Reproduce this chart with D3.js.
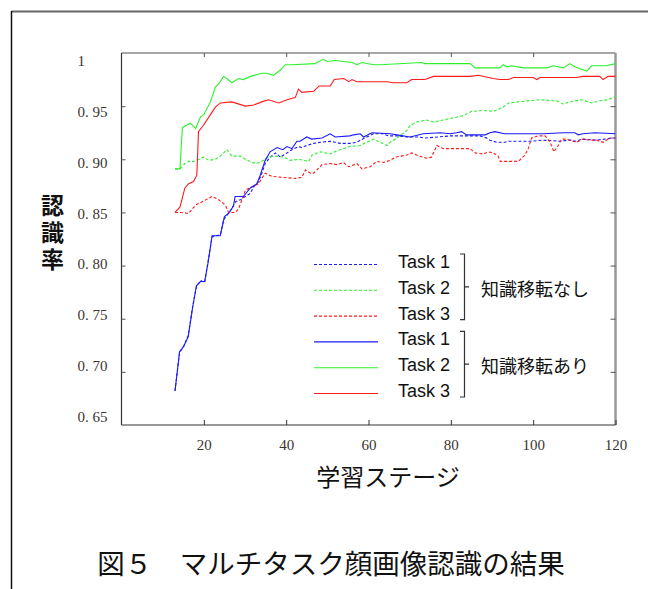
<!DOCTYPE html>
<html>
<head>
<meta charset="utf-8">
<script src="https://cdn.jsdelivr.net/npm/d3@7"></script>
<style>
  body { margin: 0; background: #fff; }
</style>
</head>
<body>
<div id="chart"></div>
<script>

// x: learning stage, y: recognition rate
const stageTicks = [20, 40, 60, 80, 100, 120]
const rateTicks = [0.65, 0.70, 0.75, 0.80, 0.85, 0.90, 0.95, 1.0]
const rateTickLabels = ['0. 65', '0. 70', '0. 75', '0. 80', '0. 85', '0. 90', '0. 95', '1']

// 知識移転なし (dashed)
const task1Plain = [[13, 0.682], [14.1, 0.718], [15.1, 0.724], [16.2, 0.734], [17.3, 0.762], [18.2, 0.780], [19.2, 0.786], [20.2, 0.784],
    [21, 0.803], [22, 0.827], [24, 0.829], [24.8, 0.843], [26.5, 0.852], [27.7, 0.860], [28.9, 0.862], [30.1, 0.865], [31.3, 0.868],
    [32.1, 0.874], [33.3, 0.879], [34.1, 0.887], [34.9, 0.896], [36.1, 0.902], [37.4, 0.906], [38.6, 0.902], [39.8, 0.905],
    [41.4, 0.909], [43, 0.912], [43.8, 0.911], [45, 0.913], [46.7, 0.915], [48.3, 0.916], [50.7, 0.917], [53.1, 0.915], [55.5, 0.915],
    [57.2, 0.916], [58, 0.918], [59.6, 0.921], [61.2, 0.924], [63.6, 0.924], [64.8, 0.922], [66.9, 0.922], [69.3, 0.921], [72.1, 0.921],
    [73.7, 0.920], [79.8, 0.922], [87.1, 0.922], [88.7, 0.920], [89.5, 0.918], [91.1, 0.916], [93.1, 0.916], [93.9, 0.917], [99.2, 0.917],
    [102.4, 0.918], [106.5, 0.917], [108.9, 0.918], [110.5, 0.917], [111.8, 0.919], [115.4, 0.918], [119.5, 0.920], [120, 0.920]]

const task2Plain = [[13, 0.891], [14.2, 0.891], [15.4, 0.896], [16.3, 0.898], [17.5, 0.898], [18.3, 0.899], [19.9, 0.902], [21.2, 0.899],
    [22.8, 0.900], [24, 0.903], [25.6, 0.909], [26.8, 0.903], [28.9, 0.903], [30.1, 0.900], [31.7, 0.897], [32.9, 0.896], [34.5, 0.899],
    [35.7, 0.902], [37.4, 0.903], [39.4, 0.902], [41, 0.899], [43, 0.900], [45.5, 0.898], [46.3, 0.904], [48.3, 0.907], [50.7, 0.905],
    [52.3, 0.908], [53.9, 0.910], [55.5, 0.912], [58, 0.913], [61.2, 0.919], [62.8, 0.916], [64.5, 0.913], [65.3, 0.916], [66.9, 0.920],
    [69.3, 0.927], [70.1, 0.932], [71.7, 0.935], [74.1, 0.937], [75.8, 0.935], [78.2, 0.937], [80.6, 0.939], [83, 0.941], [85, 0.945],
    [87.9, 0.946], [90.3, 0.945], [92.7, 0.949], [94, 0.953], [96.2, 0.954], [98.7, 0.955], [101.3, 0.956], [105.7, 0.955], [107.3, 0.952],
    [108.9, 0.954], [111.7, 0.956], [114.2, 0.953], [116.2, 0.955], [118.2, 0.956], [120, 0.959]]

const task3Plain = [[13, 0.850], [14.5, 0.850], [16.3, 0.849], [18, 0.857], [19.6, 0.860], [22, 0.865], [23.6, 0.862], [25.2, 0.857],
    [26, 0.850], [27.7, 0.850], [28.5, 0.854], [30.1, 0.871], [31.7, 0.874], [33.3, 0.877], [34.9, 0.887], [36.5, 0.884], [38.9, 0.883],
    [42.2, 0.882], [43.8, 0.883], [44.7, 0.890], [45.9, 0.887], [46.7, 0.887], [48.7, 0.895], [50.7, 0.896], [52.3, 0.895], [53.9, 0.897],
    [55.2, 0.893], [57.2, 0.896], [58.4, 0.891], [60.4, 0.893], [62, 0.898], [63.6, 0.897], [65.3, 0.899], [66.5, 0.902], [69.3, 0.904],
    [70.5, 0.906], [72.3, 0.903], [74.1, 0.901], [75.3, 0.902], [76.6, 0.913], [78.2, 0.910], [81.4, 0.910], [84.7, 0.910], [85.9, 0.906],
    [87.9, 0.905], [89.1, 0.907], [90.3, 0.906], [91.5, 0.903], [92, 0.898], [96.4, 0.898], [98, 0.904], [98.8, 0.910], [99.6, 0.920],
    [101.2, 0.922], [102.9, 0.922], [103.6, 0.919], [104.6, 0.912], [105, 0.907], [106.1, 0.913], [106.9, 0.919], [108.1, 0.919],
    [109.7, 0.917], [110.5, 0.916], [112.1, 0.919], [113.8, 0.918], [115.4, 0.918], [117, 0.916], [118.6, 0.920], [120, 0.920]]

// 知識移転あり (solid)
const task1Transfer = [[13, 0.682], [14.1, 0.719], [15.1, 0.724], [16.2, 0.733], [17.3, 0.761], [18.2, 0.781], [19.2, 0.785], [20.2, 0.785],
    [21, 0.802], [22, 0.828], [24, 0.828], [25, 0.846], [26, 0.849], [27.2, 0.856], [27.6, 0.865], [29.6, 0.865], [31.3, 0.873],
    [32.9, 0.877], [33.7, 0.885], [34.9, 0.899], [36.1, 0.907], [37.8, 0.911], [39.2, 0.909], [40.2, 0.912], [41.4, 0.910], [42.6, 0.917],
    [43.4, 0.917], [45, 0.921], [46.2, 0.919], [48.7, 0.920], [50.7, 0.924], [51.9, 0.921], [55.5, 0.922], [56.4, 0.923], [58, 0.924],
    [58.8, 0.921], [60.8, 0.925], [65.3, 0.924], [66.9, 0.923], [70.1, 0.921], [73.3, 0.924], [77.4, 0.925], [79.8, 0.924], [81.4, 0.925],
    [82.6, 0.926], [83.8, 0.923], [87.1, 0.923], [88.4, 0.923], [89.5, 0.925], [90.7, 0.926], [93, 0.924], [102.6, 0.924], [107.3, 0.925],
    [110.1, 0.925], [111, 0.923], [112.1, 0.924], [115, 0.925], [120, 0.924]]

const task2Transfer = [[13, 0.891], [14.2, 0.891], [14.8, 0.930], [16.7, 0.934], [18, 0.929], [19.2, 0.940], [20, 0.942], [21.6, 0.954],
    [22.8, 0.968], [23.6, 0.971], [24.8, 0.978], [25.6, 0.976], [26.8, 0.972], [28.4, 0.976], [29.6, 0.975], [31.3, 0.978], [34.1, 0.981],
    [35.3, 0.981], [36.9, 0.979], [38.6, 0.984], [39.8, 0.989], [41.4, 0.989], [47, 0.990], [49, 0.994], [50, 0.992], [52, 0.993],
    [56, 0.991], [57.2, 0.989], [58.4, 0.991], [61.2, 0.989], [62.8, 0.989], [72.9, 0.991], [73.7, 0.990], [76.6, 0.990], [84.7, 0.990],
    [85.9, 0.986], [91.9, 0.986], [92.7, 0.989], [93.6, 0.987], [94.8, 0.988], [97.6, 0.986], [103.3, 0.986], [104.9, 0.988],
    [107.3, 0.986], [108.9, 0.990], [110.1, 0.987], [113, 0.983], [114.2, 0.988], [117.8, 0.988], [120, 0.990]]

const task3Transfer = [[13, 0.850], [14.2, 0.855], [15.4, 0.873], [16.3, 0.877], [17.5, 0.879], [18.3, 0.885], [18.7, 0.926], [19.9, 0.932],
    [21.6, 0.942], [22.8, 0.949], [24, 0.953], [26.8, 0.954], [30.1, 0.950], [32.1, 0.951], [34.1, 0.954], [35.7, 0.956], [38.2, 0.953],
    [40.2, 0.956], [42.2, 0.958], [43, 0.966], [43.8, 0.963], [46.7, 0.964], [48, 0.969], [50.7, 0.969], [51.7, 0.975], [54, 0.976],
    [55.2, 0.973], [56, 0.975], [57.2, 0.973], [64.5, 0.973], [66.1, 0.972], [69.3, 0.972], [70.5, 0.975], [73.7, 0.975], [75.8, 0.978],
    [84.7, 0.978], [86.7, 0.979], [90.3, 0.976], [91.9, 0.975], [94, 0.975], [95.2, 0.977], [100, 0.977], [100.9, 0.975], [101.7, 0.977],
    [110.5, 0.977], [112.1, 0.978], [116.2, 0.978], [117, 0.975], [118.2, 0.978], [120, 0.978]]

const taskLabels = ['Task 1', 'Task 2', 'Task 3']
const groupLabels = ['知識移転なし', '知識移転あり']
const taskColors = ['#1a1aff', '#2cf02c', '#ff1a1a']

const series = [
    { task: 0, group: 0, values: task1Plain },
    { task: 1, group: 0, values: task2Plain },
    { task: 2, group: 0, values: task3Plain },
    { task: 0, group: 1, values: task1Transfer },
    { task: 1, group: 1, values: task2Transfer },
    { task: 2, group: 1, values: task3Transfer }
]

let fullWidth = 648
let fullHeight = 589

var margin = { top: 53, right: 32.5, bottom: 164, left: 121.5 },
    width = fullWidth - margin.left - margin.right,
    height = fullHeight - margin.top - margin.bottom;

var root = d3.select('#chart')
    .append('svg')
    .attr('width', fullWidth)
    .attr('height', fullHeight)

// page border (top and left edges of the figure box)
root.append('line')
    .attr('x1', 11.5).attr('x2', fullWidth).attr('y1', 11.5).attr('y2', 11.5)
    .attr('stroke', '#666').attr('stroke-width', 2)
root.append('line')
    .attr('x1', 11.5).attr('x2', 11.5).attr('y1', 11).attr('y2', fullHeight)
    .attr('stroke', '#111').attr('stroke-width', 1.5)

var svg = root.append('g')
    .attr('transform', 'translate(' + margin.left + ',' + margin.top + ')')

var x = d3.scaleLinear().domain([0, 120]).range([0, width])
var y = d3.scaleLinear().domain([0.65, 1.0]).range([height, 0])
// the tick labels sit on a slightly tighter grid than the ticks
var yLabel = d3.scaleLinear().domain([0.65, 1.0]).range([height - 8, 8])

// frame
svg.append('line').attr('x1', 0).attr('x2', width).attr('y1', 0).attr('y2', 0)
    .attr('stroke', '#888').attr('stroke-width', 1.5)
svg.append('line').attr('x1', width).attr('x2', width).attr('y1', 0).attr('y2', height)
    .attr('stroke', '#999').attr('stroke-width', 2.5)
svg.append('line').attr('x1', 0).attr('x2', 0).attr('y1', 0).attr('y2', height)
    .attr('stroke', '#333').attr('stroke-width', 1.2)
svg.append('line').attr('x1', 0).attr('x2', width).attr('y1', height).attr('y2', height)
    .attr('stroke', '#333').attr('stroke-width', 1.2)

// ticks point inwards on all four sides
var xAxis = svg.append('g')
    .attr('transform', 'translate(0,' + height + ')')
    .call(d3.axisBottom(x).tickValues(stageTicks).tickSize(-5).tickPadding(14))
xAxis.select('.domain').remove()
xAxis.selectAll('line').attr('stroke', '#333')
xAxis.selectAll('text')
    .attr('font-family', '"Liberation Serif", "DejaVu Serif", serif')
    .attr('font-size', 15)
    .attr('fill', '#3a3530')

var topAxis = svg.append('g')
    .call(d3.axisTop(x).tickValues(stageTicks.slice(0, -1)).tickSize(-4).tickFormat(''))
topAxis.select('.domain').remove()
topAxis.selectAll('line').attr('stroke', '#555')

var yAxis = svg.append('g')
    .call(d3.axisLeft(y).tickValues(rateTicks.slice(1, -1)).tickSize(-4).tickFormat(''))
yAxis.select('.domain').remove()
yAxis.selectAll('line').attr('stroke', '#555')

var rightAxis = svg.append('g')
    .attr('transform', 'translate(' + width + ',0)')
    .call(d3.axisRight(y).tickValues(rateTicks.slice(1, -1)).tickSize(-5).tickFormat(''))
rightAxis.select('.domain').remove()
rightAxis.selectAll('line').attr('stroke', '#555')

svg.append('g')
    .selectAll('text')
    .data(rateTicks)
    .enter()
    .append('text')
    .attr('x', -44)
    .attr('y', d => yLabel(d))
    .attr('dominant-baseline', 'central')
    .attr('font-family', '"Liberation Serif", "DejaVu Serif", serif')
    .attr('font-size', 15)
    .attr('fill', '#3a3530')
    .text((d, i) => rateTickLabels[i])

// lines
var line = d3.line()
    .x(d => x(d[0]))
    .y(d => y(d[1]))

svg.append('g')
    .attr('class', 'curves')
    .selectAll('path')
    .data(series)
    .enter()
    .append('path')
    .attr('fill', 'none')
    .attr('stroke', d => taskColors[d.task])
    .attr('stroke-width', 1.1)
    .attr('stroke-dasharray', d => d.group == 0 ? '3,2' : null)
    .attr('d', d => line(d.values))

// legend
var legendRow = d3.scaleLinear().domain([0, 5]).range([264.5, 393.5])
var legend = root.append('g').attr('class', 'legend')

legend.append('g')
    .selectAll('line')
    .data(series)
    .enter()
    .append('line')
    .attr('x1', 314).attr('x2', 378)
    .attr('y1', (d, i) => legendRow(i)).attr('y2', (d, i) => legendRow(i))
    .style('stroke', d => taskColors[d.task])
    .style('stroke-width', 1.1)
    .style('stroke-dasharray', d => d.group == 0 ? '3,2' : 'none')

legend.append('g')
    .selectAll('text')
    .data(series)
    .enter()
    .append('text')
    .attr('x', 398)
    .attr('y', (d, i) => legendRow(i) - 2.5)
    .attr('dominant-baseline', 'central')
    .attr('font-family', '"Liberation Sans", Arial, sans-serif')
    .attr('font-size', 18)
    .attr('fill', '#111')
    .text(d => taskLabels[d.task])

groupLabels.forEach((label, g) => {
    let top = legendRow(g * 3) - 10.5
    let bottom = legendRow(g * 3 + 2) + 3.5
    let mid = (top + bottom) / 2
    legend.append('path')
        .attr('d', 'M460,' + top + 'H464.5V' + bottom + 'H460M464.5,' + mid + 'H469')
        .attr('fill', 'none')
        .attr('stroke', '#333')
        .attr('stroke-width', 1.2)
    legend.append('text')
        .attr('x', 481)
        .attr('y', mid + 1)
        .attr('dominant-baseline', 'central')
        .attr('font-family', '"Noto Sans CJK JP", sans-serif')
        .attr('font-size', 18)
        .attr('fill', '#111')
        .text(label)
})

// axis titles
root.append('text')
    .attr('x', 388)
    .attr('y', 475)
    .attr('text-anchor', 'middle')
    .attr('dominant-baseline', 'central')
    .attr('font-family', '"Noto Sans CJK JP", sans-serif')
    .attr('font-size', 24)
    .attr('fill', '#111')
    .text('学習ステージ')

root.append('text')
    .attr('x', 52.5)
    .attr('y', 234)
    .attr('text-anchor', 'middle')
    .style('writing-mode', 'vertical-rl')
    .style('letter-spacing', '4px')
    .attr('font-family', '"Noto Sans CJK JP", sans-serif')
    .attr('font-size', 23)
    .attr('font-weight', 'bold')
    .attr('fill', '#111')
    .text('認識率')

// figure caption
root.append('text')
    .attr('x', 331)
    .attr('y', 562)
    .attr('text-anchor', 'middle')
    .attr('dominant-baseline', 'central')
    .attr('font-family', '"Noto Sans CJK JP", sans-serif')
    .attr('font-size', 27.5)
    .attr('fill', '#111')
    .text('図５　マルチタスク顔画像認識の結果')

</script>
</body>
</html>
